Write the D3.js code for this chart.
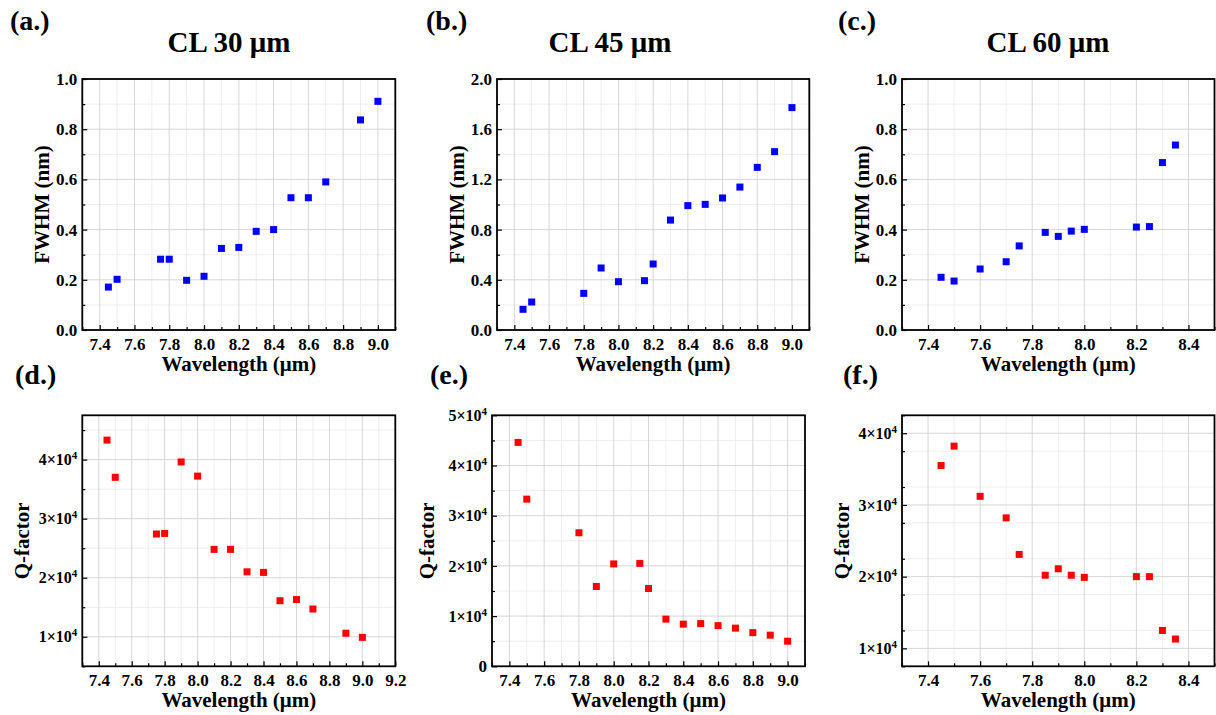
<!DOCTYPE html>
<html><head><meta charset="utf-8">
<script src="https://cdn.jsdelivr.net/npm/d3@7"></script>
<style>
body{margin:0;background:#fff}
text{font-family:"Liberation Serif","Times New Roman",serif;font-weight:bold;fill:#000}
</style></head>
<body><svg id="chart" width="1216" height="715"></svg>
<script>
// ---------- data ----------
const wlA   = [7.45,7.5,7.75,7.8,7.9,8.0,8.1,8.2,8.3,8.4,8.5,8.6,8.7,8.9,9.0];
const fwhmA = [0.171,0.202,0.282,0.282,0.198,0.214,0.325,0.329,0.393,0.400,0.527,0.527,0.590,0.837,0.911];
const qA    = [43300,37000,27400,27500,39600,37200,24800,24800,21000,20900,16100,16300,14700,10600,9900];

const wlB   = [7.45,7.5,7.8,7.9,8.0,8.15,8.2,8.3,8.4,8.5,8.6,8.7,8.8,8.9,9.0];
const fwhmB = [0.165,0.223,0.292,0.494,0.385,0.393,0.526,0.876,0.991,1.001,1.052,1.139,1.296,1.421,1.772];
const qB    = [44600,33300,26600,15900,20400,20500,15500,9400,8400,8500,8100,7600,6700,6200,5000];

const wlC   = [7.45,7.5,7.6,7.7,7.75,7.85,7.9,7.95,8.0,8.2,8.25,8.3,8.35];
const fwhmC = [0.210,0.195,0.243,0.272,0.335,0.389,0.373,0.394,0.401,0.410,0.412,0.667,0.737];
const qC    = [35500,38200,31200,28200,23100,20200,21100,20200,19900,20000,20000,12500,11300];

const titles = ["CL 30 μm","CL 45 μm","CL 60 μm"];
const panelLabels = ["(a.)","(b.)","(c.)","(d.)","(e.)","(f.)"];
const xLabel = "Wavelength (μm)";
const yLabelTop = "FWHM (nm)";
const yLabelBottom = "Q-factor";

const xTicks90 = [7.4,7.6,7.8,8.0,8.2,8.4,8.6,8.8,9.0];
const xTicks92 = [7.4,7.6,7.8,8.0,8.2,8.4,8.6,8.8,9.0,9.2];
const xTicks84 = [7.4,7.6,7.8,8.0,8.2,8.4];
const yTicksF1 = [0,0.2,0.4,0.6,0.8,1.0];
const yTicksF2 = [0,0.4,0.8,1.2,1.6,2.0];
const yTicksQd = [10000,20000,30000,40000];
const yTicksQe = [0,10000,20000,30000,40000,50000];
const yTicksQf = [10000,20000,30000,40000];

// ---------- drawing ----------
const svg = d3.select("#chart");
const BLUE = "#0000ff", RED = "#ff0000";

function range(a,b,s){const r=[];for(let v=a;v<=b+1e-9;v+=s)r.push(+v.toFixed(6));return r;}

function panel(o){
  const x = d3.scaleLinear().domain(o.xDom).range([o.x0,o.x1]);
  const y = d3.scaleLinear().domain(o.yDom).range([o.y1,o.y0]);
  const g = svg.append("g");
  const xMinor = range(o.xDom[0],o.xDom[1],o.xStep/2).filter(v=>!o.xTicks.some(t=>Math.abs(t-v)<1e-6));
  const yMinor = range(o.yDom[0],o.yDom[1],o.yMinorStep).filter(v=>!o.yTicks.some(t=>Math.abs(t-v)<1e-6));
  // minor grid
  g.append("g").selectAll("line").data(xMinor).join("line")
    .attr("x1",d=>x(d)).attr("x2",d=>x(d)).attr("y1",o.y0).attr("y2",o.y1)
    .attr("stroke","#eeeeee").attr("stroke-width",1);
  g.append("g").selectAll("line").data(yMinor).join("line")
    .attr("y1",d=>y(d)).attr("y2",d=>y(d)).attr("x1",o.x0).attr("x2",o.x1)
    .attr("stroke","#eeeeee").attr("stroke-width",1);
  // major grid
  g.append("g").selectAll("line").data(o.xTicks).join("line")
    .attr("x1",d=>x(d)).attr("x2",d=>x(d)).attr("y1",o.y0).attr("y2",o.y1)
    .attr("stroke","#d6d6d6").attr("stroke-width",1);
  g.append("g").selectAll("line").data(o.yTicks).join("line")
    .attr("y1",d=>y(d)).attr("y2",d=>y(d)).attr("x1",o.x0).attr("x2",o.x1)
    .attr("stroke","#d6d6d6").attr("stroke-width",1);
  // axes
  const xa = g.append("g").attr("transform",`translate(0,${o.y1})`)
    .call(d3.axisBottom(x).tickValues(o.xTicks).tickSize(-5).tickPadding(8).tickFormat(d3.format(".1f")));
  const ya = g.append("g").attr("transform",`translate(${o.x0},0)`)
    .call(d3.axisLeft(y).tickValues(o.yTicks).tickSize(-5).tickPadding(5).tickFormat(o.yFmt));
  g.append("g").attr("transform",`translate(0,${o.y1})`)
    .call(d3.axisBottom(x).tickValues(xMinor).tickSize(-3).tickFormat(""));
  g.append("g").attr("transform",`translate(${o.x0},0)`)
    .call(d3.axisLeft(y).tickValues(yMinor).tickSize(-3).tickFormat(""));
  g.selectAll(".domain").remove();
  g.selectAll(".tick line").attr("stroke","#000").attr("stroke-width",1.2);
  xa.selectAll("text").attr("font-size",17).attr("font-family","Liberation Serif").attr("font-weight","bold");
  ya.selectAll("text").attr("font-size",17).attr("font-family","Liberation Serif").attr("font-weight","bold");
  if(o.sci){
    ya.selectAll(".tick text").each(function(d){
      const t = d3.select(this); t.text("");
      if(d===0){ t.text("0"); return; }
      const m = d/10000;
      t.attr("font-size",16);
      t.append("tspan").text(m+"×10");
      t.append("tspan").attr("font-size",11).attr("dy","-0.55em").text("4");
    });
  }
  // points
  const s = 7;
  g.append("g").selectAll("rect").data(o.xs.map((v,i)=>[v,o.ys[i]])).join("rect")
    .attr("x",d=>x(d[0])-s/2).attr("y",d=>y(d[1])-s/2).attr("width",s).attr("height",s)
    .attr("fill",o.color);
  // frame
  g.append("rect").attr("x",o.x0).attr("y",o.y0).attr("width",o.x1-o.x0).attr("height",o.y1-o.y0)
    .attr("fill","none").attr("stroke","#000").attr("stroke-width",1.8);
  // labels
  g.append("text").attr("x",(o.x0+o.x1)/2).attr("y",o.xlabY).attr("text-anchor","middle")
    .attr("font-size",21).text(xLabel);
  g.append("text").attr("transform",`translate(${o.ylabX},${(o.y0+o.y1)/2}) rotate(-90)`)
    .attr("text-anchor","middle").attr("dy","0.35em").attr("font-size",21).text(o.ylab);
  g.append("text").attr("x",o.lx).attr("y",o.ly).attr("font-size",28).text(o.plabel);
  if(o.title) g.append("text").attr("x",o.tx).attr("y",52).attr("text-anchor","middle")
    .attr("font-size",29).text(o.title);
}

const fmt1 = d3.format(".1f");
const TOP = {y0:79, y1:330, xlabY:371};
const BOT = {y0:415.3, y1:666.3, xlabY:707};

panel({...TOP, x0:82.3, x1:395.3, xDom:[7.3,9.1], xTicks:xTicks90, xStep:0.2,
  yDom:[0,1], yTicks:yTicksF1, yMinorStep:0.1, yFmt:fmt1, xs:wlA, ys:fwhmA, color:BLUE,
  ylab:yLabelTop, ylabX:42, plabel:panelLabels[0], lx:10, ly:30, title:titles[0], tx:229});
panel({...TOP, x0:497, x1:809.3, xDom:[7.3,9.1], xTicks:xTicks90, xStep:0.2,
  yDom:[0,2], yTicks:yTicksF2, yMinorStep:0.2, yFmt:fmt1, xs:wlB, ys:fwhmB, color:BLUE,
  ylab:yLabelTop, ylabX:457, plabel:panelLabels[1], lx:426, ly:30, title:titles[1], tx:610});
panel({...TOP, x0:902, x1:1214.5, xDom:[7.3,8.5], xTicks:xTicks84, xStep:0.2,
  yDom:[0,1], yTicks:yTicksF1, yMinorStep:0.1, yFmt:fmt1, xs:wlC, ys:fwhmC, color:BLUE,
  ylab:yLabelTop, ylabX:862, plabel:panelLabels[2], lx:838, ly:30, title:titles[2], tx:1048});

panel({...BOT, x0:82.3, x1:395.3, xDom:[7.3,9.2], xTicks:xTicks92, xStep:0.2,
  yDom:[5000,47500], yTicks:yTicksQd, yMinorStep:5000, sci:true, yFmt:d=>d, xs:wlA, ys:qA, color:RED,
  ylab:yLabelBottom, ylabX:22, plabel:panelLabels[3], lx:15, ly:384});
panel({...BOT, x0:492, x1:805, xDom:[7.3,9.1], xTicks:xTicks90, xStep:0.2,
  yDom:[0,50000], yTicks:yTicksQe, yMinorStep:5000, sci:true, yFmt:d=>d, xs:wlB, ys:qB, color:RED,
  ylab:yLabelBottom, ylabX:427, plabel:panelLabels[4], lx:430, ly:384});
panel({...BOT, x0:902, x1:1214.5, xDom:[7.3,8.5], xTicks:xTicks84, xStep:0.2,
  yDom:[7500,42500], yTicks:yTicksQf, yMinorStep:5000, sci:true, yFmt:d=>d, xs:wlC, ys:qC, color:RED,
  ylab:yLabelBottom, ylabX:842, plabel:panelLabels[5], lx:843, ly:384});
</script></body></html>
